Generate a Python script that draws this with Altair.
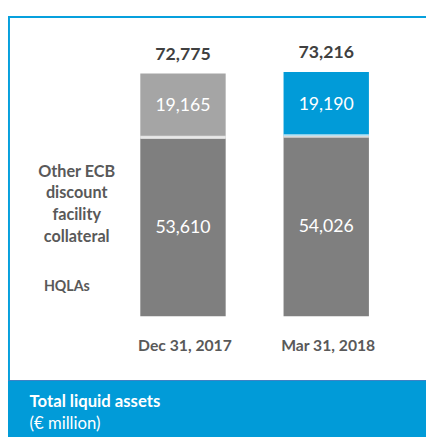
import altair as alt
import pandas as pd

# ---- data ----
dates = ["Dec 31, 2017", "Mar 31, 2018"]
hqla = [53610, 54026]
other_ecb = [19165, 19190]
totals = [72775, 73216]
left_label_lines = ["Other ECB", "discount", "facility", "collateral"]
hqla_label = "HQLAs"
band_title = "Total liquid assets"
band_unit = "(€ million)"

W, H = 426, 433
FONT = "Lato"
BLUE = "#019BD8"

rows = []
for i, d in enumerate(dates):
    rows.append(dict(date=d, idx=i, start=0, end=hqla[i], val=hqla[i], key="HQLAs"))
    rows.append(dict(date=d, idx=i, start=hqla[i], end=hqla[i] + other_ecb[i],
                     val=other_ecb[i], key="Other " + d))
seg = pd.DataFrame(rows)
seg["mid"] = (seg["start"] + seg["end"]) / 2
tot = pd.DataFrame({"date": dates, "idx": list(range(len(dates))), "total": totals, "hqla": hqla})

xs = alt.Scale(domain=[-1.1873, 1.6622])
ys = alt.Scale(domain=[-36176, 91176])

def X():
    return alt.X("idx:Q", scale=xs, axis=None)

bars = alt.Chart(seg).mark_bar(width=87).encode(
    x=X(),
    y=alt.Y("start:Q", scale=ys, axis=None),
    y2="end:Q",
    color=alt.Color("key:N", legend=None,
                    scale=alt.Scale(domain=["HQLAs", "Other " + dates[0], "Other " + dates[1]],
                                    range=["#7F7F7F", "#A5A5A5", BLUE])),
)

gaps = alt.Chart(tot).mark_tick(orient="horizontal", size=87, thickness=3.5, color="white").encode(
    x=X(), y=alt.Y("hqla:Q", scale=ys, axis=None))

seg_labels = alt.Chart(seg).mark_text(font=FONT, fontSize=18, color="white", baseline="middle", dy=1).encode(
    x=X(), y=alt.Y("mid:Q", scale=ys, axis=None), text=alt.Text("val:Q", format=","))

tot_labels = alt.Chart(tot).mark_text(font=FONT, fontSize=18, fontWeight="bold", color="#404040",
                                      baseline="alphabetic", dy=-14).encode(
    x=X(), y=alt.Y("total:Q", scale=ys, axis=None), text=alt.Text("total:Q", format=","))

date_labels = alt.Chart(tot).mark_text(font=FONT, fontSize=16, fontWeight="bold", color="#595959",
                                       baseline="alphabetic", dx=2).encode(
    x=X(), y=alt.value(345), text="date:N")

one = pd.DataFrame({"a": [0]})

left_labels = alt.Chart(one).mark_text(font=FONT, fontSize=16.5, fontWeight="bold", color="#595959",
                                       baseline="alphabetic", align="center", lineHeight=22).encode(
    x=alt.value(70), y=alt.value(168), text=alt.value(left_label_lines))
hq_label = alt.Chart(one).mark_text(font=FONT, fontSize=14.5, fontWeight="bold", color="#595959",
                                    baseline="alphabetic", align="center").encode(
    x=alt.value(60), y=alt.value(284), text=alt.value(hqla_label))

band = alt.Chart(one).mark_rect(color=BLUE).encode(
    x=alt.value(0), x2=alt.value(W), y=alt.value(375), y2=alt.value(H))
band_line = alt.Chart(one).mark_rule(color="#3F82C4", strokeWidth=1).encode(
    x=alt.value(0), x2=alt.value(W), y=alt.value(375.5))
frame_left = alt.Chart(one).mark_rule(color="#06A0DD", strokeWidth=2).encode(
    x=alt.value(1), y=alt.value(4), y2=alt.value(375))
frame_top = alt.Chart(one).mark_rule(color="#06A0DD", strokeWidth=2).encode(
    x=alt.value(0), x2=alt.value(W), y=alt.value(5))

band_t1 = alt.Chart(one).mark_text(font=FONT, fontSize=17, fontWeight="bold", color="white",
                                   align="left", baseline="alphabetic").encode(
    x=alt.value(22), y=alt.value(403), text=alt.value(band_title))
band_t2 = alt.Chart(one).mark_text(font=FONT, fontSize=17, color="white",
                                   align="left", baseline="alphabetic").encode(
    x=alt.value(22), y=alt.value(425), text=alt.value(band_unit))

chart = alt.layer(
    band, band_line, frame_left, frame_top,
    bars, gaps, seg_labels, tot_labels, date_labels, left_labels, hq_label,
    band_t1, band_t2,
).properties(width=W, height=H, padding=0, autosize="none").configure_view(stroke=None)

chart.save("out.html", embed_options={"renderer": "svg", "actions": False})
